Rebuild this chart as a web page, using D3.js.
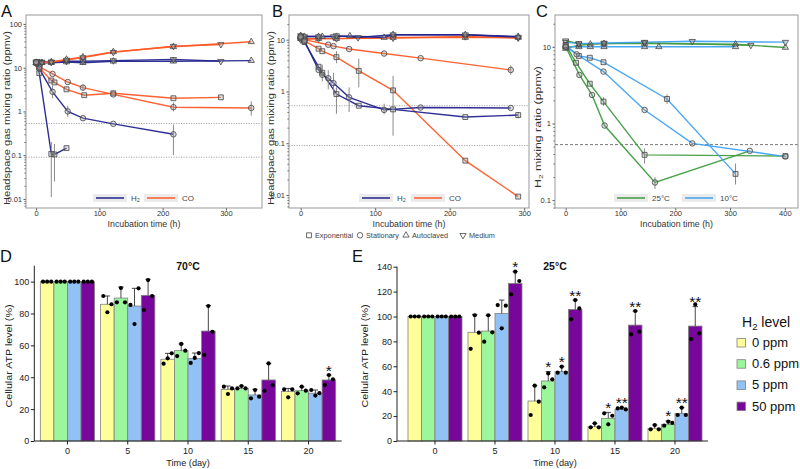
<!DOCTYPE html>
<html><head><meta charset="utf-8">
<script src="https://cdn.jsdelivr.net/npm/d3@7"></script>
<style>
body{margin:0;background:#fff;}
svg{display:block;font-family:"Liberation Sans",Arial,Helvetica,sans-serif;}
</style></head><body>
<svg id="c" width="800" height="469"></svg>
<script>
// ---------- Panel A data: [time (h), ppmv] ----------
const A_H2_exp  = [[0,13],[5,7.5],[24,0.107],[29,0.104],[48,0.145]];
const A_H2_stat = [[0,13.5],[5,9.5],[26,2.8],[50,1.0],[74,0.7],[122,0.52],[217,0.3]];
const A_H2_auto = [[0,13],[5,13],[9,13],[24,13],[48,13.5],[74,13],[122,14],[217,14],[340,14.5]];
const A_H2_med  = [[0,13.5],[5,13.5],[9,13.5],[24,13.5],[48,14],[74,14],[122,14.5],[217,15.5],[292,14]];
const A_CO_exp  = [[0,13],[5,10],[24,5.1],[29,4.6],[48,3.2],[76,2.35],[122,2.6],[217,2.0],[292,2.1]];
const A_CO_stat = [[0,13],[5,10.5],[26,7.2],[50,4.7],[74,3.5],[122,2.45],[217,1.25],[340,1.2]];
const A_CO_auto = [[0,13],[5,13],[9,13],[24,13.5],[48,15.5],[74,17.5],[122,23],[217,30],[340,39]];
const A_CO_med  = [[0,12.5],[5,13],[9,13],[24,13.5],[48,15],[74,17],[122,22.5],[217,31],[292,34]];
const A_err = [[24,0.011,0.2],[29,0.025,0.18],[217,0.1,0.5],[26,2.0,3.9],[50,0.75,1.35],[340,0.8,1.7],[217,1.0,1.6],[74,3.0,4.1]];

// ---------- Panel B data ----------
const B_H2_exp  = [[0,11],[5,9],[24,3.0],[29,2.3],[48,0.89],[78,0.53],[124,0.45],[221,0.32],[292,0.35]];
const B_H2_stat = [[0,11.5],[5,9.5],[24,2.6],[29,2.1],[37,1.8],[44,1.45],[65,0.77],[112,0.44],[161,0.49],[282,0.48]];
const B_H2_auto = [[0,12],[5,11.5],[24,11.5],[29,11.5],[48,11.5],[66,11.8],[112,11],[124,12.5],[221,12.5],[292,11.5]];
const B_H2_med  = [[0,12],[5,11.5],[24,11.5],[44,11.5],[48,12],[77,11],[124,12.5],[221,12.5],[292,11.2]];
const B_CO_exp  = [[0,11],[5,9.5],[24,6.7],[29,6.0],[48,4.6],[78,2.5],[124,1.05],[221,0.046],[292,0.0093]];
const B_CO_stat = [[0,10.5],[5,10],[37,8.0],[44,7.5],[65,6.6],[112,5.4],[161,4.4],[282,2.6]];
const B_CO_auto = [[0,10.5],[24,10.5],[48,10.5],[124,11],[221,11],[292,11]];
const B_CO_med  = [[0,10],[24,10.5],[48,10.5],[124,10.8],[221,11.5],[292,10.8]];
const B_err = [[29,1.56,3.3],[37,1.1,2.6],[44,0.87,2.3],[48,0.37,1.2],[65,0.4,1.2],[78,1.2,4.3],[112,0.36,0.58],[124,0.14,2.0],[48,3.5,6.0],[282,2.1,3.2],[292,0.3,0.4]];

// ---------- Panel C data ----------
const C_25_exp  = [[0,10.5],[19,6.2],[44,3.3],[69,1.93],[144,0.39],[401,0.376]];
const C_25_stat = [[0,10],[25,4.3],[48,2.36],[71,0.94],[163,0.17],[336,0.44]];
const C_25_auto = [[0,9.5],[24,10.5],[45,10.8],[70,11],[144,11],[310,10.8],[401,9.8]];
const C_25_med  = [[0,12],[24,11],[70,11],[144,11.3],[338,10.5]];
const C_10_exp  = [[0,10.5],[24,7.6],[44,7.2],[69,6.3],[185,2.09],[310,0.22]];
const C_10_stat = [[0,10],[20,8.0],[69,4.75],[144,1.5],[231,0.55],[401,0.37]];
const C_10_auto = [[0,10],[24,10],[45,10],[70,10],[144,10],[170,10],[310,10]];
const C_10_med  = [[0,11.5],[24,11],[70,11.2],[144,11.5],[231,11.8],[401,11.5]];
const C_err = [[163,0.14,0.2],[144,0.3,0.47],[310,0.16,0.3],[185,1.8,2.4],[69,1.7,2.2]];

const thresholdsAB = [0.53, 0.09];
const thresholdsC = [0.53];

// ---------- Panels D / E data ----------
const days = ["0","5","10","15","20"];
const levels = ["0 ppm","0.6 ppm","5 ppm","50 ppm"];
const D_mean = [[100,100,100,100],[85.8,89.7,84.7,91.4],[51.3,56.7,51.7,69],[32.4,33,28.9,38.3],[31,31.6,30,38.3]];
const D_err  = [[100,100,100,100],[91,96.6,95.8,101.5],[55,60.9,55.2,85],[34.5,34.5,32.4,48.7],[33,34,32,41.4]];
const D_dots = [
 [[100,100,100],[100,100,100],[100,100,100],[100,100,100]],
 [[91,80.8,85.8],[87,96,87],[85.4,73.4,95.8],[82.2,101,91]],
 [[48.5,51.9,55],[53.3,60.9,56.7],[49,52.1,55.2],[54,84.7,68.5]],
 [[34.1,29.5,33],[33,34.5,33],[26.8,32,27.8],[31.5,48.7,35]],
 [[32.4,27.4,32.4],[29.9,34.1,31.6],[32,28.5,30],[35.1,41.4,38.7]]];
const D_stars = [["20","50 ppm","*"]];

const E_mean = [[100,100,100,100],[87.3,88.3,102.5,126.6],[32.1,48.2,55.7,105.7],[11.5,18.2,25.4,93.1],[10.2,13.4,22.2,92.3]];
const E_err  = [[100,100,100,100],[101.7,101,113.2,136],[44.4,55.7,59.7,113.2],[14.2,23,26.8,104.4],[12.8,16.1,26.8,107.9]];
const E_dots = [
 [[100,100,100],[100,100,100],[100,100,100],[100,100,100]],
 [[74,101,87],[79.8,101,87.3],[109.2,90.5,108.7],[117.8,136,128.5]],
 [[20.9,44.4,31.6],[43.1,54.3,49.5],[54.9,59.7,54.9],[97.7,113.2,106.5]],
 [[11,14.2,11],[22.2,13.4,20.3],[26.2,26.8,25.4],[85.7,104.4,87.8]],
 [[9.4,12.8,9.4],[12.3,15.5,14.5],[20.9,26.8,20.9],[81.9,109.7,86.5]]];
const E_stars = [["5","50 ppm","*"],["10","0.6 ppm","*"],["10","5 ppm","*"],["10","50 ppm","**"],
 ["15","0.6 ppm","*"],["15","5 ppm","**"],["15","50 ppm","**"],["20","0.6 ppm","*"],["20","5 ppm","**"],["20","50 ppm","**"]];

// ---------- styling ----------
const colH2 = "#23238e", colCO = "#ff5a26", col25 = "#3f9c3f", col10 = "#3fa2f2";
const barCols = ["#ffff99","#9cf79c","#92c2f5","#77079b"];
const symType = {exp:d3.symbolSquare, stat:d3.symbolCircle, auto:d3.symbolTriangle, med:d3.symbolTriangle};
const symSize = {exp:24, stat:24, auto:17, med:17};

const svg = d3.select("#c");

function drawSym(g, kind, x, y, fill){
  g.append("path").attr("d", d3.symbol(symType[kind]).size(symSize[kind])())
   .attr("transform", `translate(${x},${y})${kind==="med"?" rotate(180)":""}`)
   .attr("fill", fill).attr("stroke", "#454545").attr("stroke-width", 0.8);
}

function topPanel(c){
  const g = svg.append("g");
  const x = d3.scaleLinear().domain(c.xd).range([c.x0, c.x1]);
  const y = d3.scaleLog().domain(c.yd).range([c.y1, c.y0]);
  c.hl.forEach(v => g.append("line").attr("x1",c.x0).attr("x2",c.x1).attr("y1",y(v)).attr("y2",y(v))
     .attr("stroke", c.hdash==="dot" ? "#a8a8a8" : "#666").attr("stroke-width", c.hdash==="dot"?1:0.9)
     .attr("stroke-dasharray", c.hdash==="dot" ? "1.2,1.3" : "3,2"));
  const ya = g.append("g").attr("transform",`translate(${c.x0},0)`)
     .call(d3.axisLeft(y).tickValues(c.yt).tickFormat(d=>String(d)).tickSize(2.5).tickPadding(1.5));
  const minors = [];
  for(let e=-3;e<3;e++) for(let k=2;k<10;k++){const v=k*Math.pow(10,e); if(v>c.yd[0]&&v<c.yd[1]) minors.push(v);}
  const ym = g.append("g").attr("transform",`translate(${c.x0},0)`)
     .call(d3.axisLeft(y).tickValues(minors).tickFormat("").tickSize(1.5));
  const xa = g.append("g").attr("transform",`translate(0,${c.y1})`)
     .call(d3.axisBottom(x).tickValues(c.xt).tickSize(2.5).tickPadding(0.5));
  [ya,ym,xa].forEach(a=>{a.select(".domain").remove(); a.selectAll("line").attr("stroke","#555");
     a.selectAll("text").attr("font-size",7.5).attr("fill","#333").attr("font-family",null);});
  g.append("rect").attr("x",c.x0).attr("y",c.y0).attr("width",c.x1-c.x0).attr("height",c.y1-c.y0)
   .attr("fill","none").attr("stroke","#999").attr("stroke-width",1);
  const line = d3.line().x(d=>x(d[0])).y(d=>y(d[1]));
  c.series.forEach(s => g.append("path").attr("d", line(s.data)).attr("fill","none")
     .attr("stroke", s.color).attr("stroke-width", 1.4).attr("stroke-opacity",0.95));
  c.err.forEach(e => g.append("line").attr("x1",x(e[0])).attr("x2",x(e[0])).attr("y1",y(e[1])).attr("y2",y(e[2]))
     .attr("stroke","#8a8a8a").attr("stroke-width",1));
  c.series.forEach(s => s.data.forEach(d => drawSym(g, s.sym, x(d[0]), y(d[1]), "rgba(160,160,160,0.35)")));
  c.leg.forEach(l => {
    g.append("rect").attr("x",l.x).attr("y",c.y1-14).attr("width",34).attr("height",8).attr("fill","#ebebeb");
    g.append("line").attr("x1",l.x+3).attr("x2",l.x+31).attr("y1",c.y1-10).attr("y2",c.y1-10)
     .attr("stroke",l.color).attr("stroke-width",1.5);
    const t = g.append("text").attr("x",l.x+38).attr("y",c.y1-7.2).attr("font-size",8).attr("fill","#444");
    if(l.label==="H2"){ t.text("H"); t.append("tspan").attr("font-size",5.5).attr("dy",1.5).text("2"); }
    else t.text(l.label);
  });
  g.append("text").attr("x",(c.x0+c.x1)/2).attr("y",c.y1+18.5).attr("text-anchor","middle")
   .attr("font-size",8.8).attr("fill","#333").text("Incubation time (h)");
  const yt = g.append("text").attr("transform",`translate(${c.ytx},${c.yty}) rotate(-90)`).attr("text-anchor","middle")
   .attr("font-size",9).attr("fill","#333").attr("textLength",c.ytl).attr("lengthAdjust","spacingAndGlyphs");
  if(c.yTitle==="C"){ yt.text("H"); yt.append("tspan").attr("font-size",6).attr("dy",1.5).text("2");
     yt.append("tspan").attr("dy",-1.5).text(" mixing ratio (ppmv)"); }
  else yt.text("Headspace gas mixing ratio (ppmv)");
  g.append("text").attr("x",c.lx).attr("y",17).attr("font-size",16.5).attr("fill","#111").text(c.id);
}

topPanel({id:"A", lx:1, x0:26, x1:262, y0:15, y1:208, xd:[-16,357], yd:[0.0062,160],
  yt:[0.01,0.1,1,10,100], xt:[0,100,200,300], hl:thresholdsAB, hdash:"dot", err:A_err,
  ytx:10, yty:118, ytl:174, yTitle:"A",
  series:[{data:A_H2_auto,color:colH2,sym:"auto"},{data:A_H2_med,color:colH2,sym:"med"},
          {data:A_CO_auto,color:colCO,sym:"auto"},{data:A_CO_med,color:colCO,sym:"med"},
          {data:A_CO_exp,color:colCO,sym:"exp"},{data:A_CO_stat,color:colCO,sym:"stat"},
          {data:A_H2_exp,color:colH2,sym:"exp"},{data:A_H2_stat,color:colH2,sym:"stat"}],
  leg:[{x:93,color:colH2,label:"H2"},{x:144,color:colCO,label:"CO"}]});

topPanel({id:"B", lx:272, x0:289, x1:529, y0:15, y1:208, xd:[-15.7,306.5], yd:[0.0056,30],
  yt:[0.01,0.1,1,10], xt:[0,100,200,300], hl:thresholdsAB, hdash:"dot", err:B_err,
  ytx:273.5, yty:118, ytl:174, yTitle:"B",
  series:[{data:B_CO_auto,color:colCO,sym:"auto"},{data:B_CO_med,color:colCO,sym:"med"},
          {data:B_H2_auto,color:colH2,sym:"auto"},{data:B_H2_med,color:colH2,sym:"med"},
          {data:B_CO_exp,color:colCO,sym:"exp"},{data:B_CO_stat,color:colCO,sym:"stat"},
          {data:B_H2_exp,color:colH2,sym:"exp"},{data:B_H2_stat,color:colH2,sym:"stat"}],
  leg:[{x:359,color:colH2,label:"H2"},{x:411,color:colCO,label:"CO"}]});

topPanel({id:"C", lx:536, x0:555, x1:798, y0:15, y1:208, xd:[-19.5,424], yd:[0.079,26],
  yt:[0.1,1,10], xt:[0,100,200,300,400], hl:thresholdsC, hdash:"dash", err:C_err,
  ytx:541, yty:127, ytl:122, yTitle:"C",
  series:[{data:C_25_auto,color:col25,sym:"auto"},{data:C_25_med,color:col25,sym:"med"},
          {data:C_10_auto,color:col10,sym:"auto"},{data:C_10_med,color:col10,sym:"med"},
          {data:C_25_exp,color:col25,sym:"exp"},{data:C_25_stat,color:col25,sym:"stat"},
          {data:C_10_exp,color:col10,sym:"exp"},{data:C_10_stat,color:col10,sym:"stat"}],
  leg:[{x:614,color:col25,label:"25°C"},{x:682,color:col10,label:"10°C"}]});

(function(){
  const g = svg.append("g");
  const items = [["exp","Exponential",309],["stat","Stationary",360],["auto","Autoclaved",406],["med","Medium",463]];
  items.forEach(it => { drawSym(g, it[0], it[2], 235.3, "none");
    g.append("text").attr("x",it[2]+6).attr("y",238).attr("font-size",7.3).attr("fill","#444").text(it[1]); });
})();

function barPanel(c){
  const g = svg.append("g");
  const x = d3.scaleBand().domain(days).range([c.bx0, c.bx1]).paddingInner(0.1).paddingOuter(0.1);
  const xi = d3.scaleBand().domain(levels).range([0, x.bandwidth()]);
  const y = d3.scaleLinear().domain([0, c.ymax]).range([441, c.ytop]);
  const bw = xi.bandwidth();
  const flat = [];
  days.forEach((d,i)=>levels.forEach((l,j)=>flat.push({d,l,j,m:c.mean[i][j],e:c.err[i][j],dots:c.dots[i][j]})));
  const cell = g.selectAll("g.cell").data(flat).join("g").attr("class","cell")
     .attr("transform", f=>`translate(${x(f.d)+xi(f.l)},0)`);
  cell.append("rect").attr("x",0).attr("width",bw).attr("y",f=>y(f.m)).attr("height",f=>y(0)-y(f.m))
     .attr("fill",f=>barCols[f.j]).attr("stroke","#808080").attr("stroke-width",0.8);
  const eb = cell.filter(f=>f.e>f.m);
  eb.append("line").attr("x1",bw/2).attr("x2",bw/2).attr("y1",f=>y(f.m)).attr("y2",f=>y(f.e))
     .attr("stroke","#333").attr("stroke-width",0.9);
  eb.append("line").attr("x1",bw*0.3).attr("x2",bw*0.7).attr("y1",f=>y(f.e)).attr("y2",f=>y(f.e))
     .attr("stroke","#333").attr("stroke-width",0.9);
  cell.each(function(f){
    d3.select(this).selectAll("circle").data(f.dots).join("circle")
      .attr("cx",(v,k)=>bw/2 + (k-1)*bw*0.3).attr("cy",v=>y(v)).attr("r",2.1).attr("fill","#000");
  });
  c.stars.forEach(s => { const i = days.indexOf(s[0]), j = levels.indexOf(s[1]);
    g.append("text").attr("x", x(s[0])+xi(s[1])+bw/2).attr("y", y(c.err[i][j])+0.5)
     .attr("text-anchor","middle").attr("font-size",15.5).attr("fill","#111").text(s[2]); });
  const ya = g.append("g").attr("transform",`translate(${c.ax},0)`)
     .call(d3.axisLeft(y).tickValues(d3.range(0, c.ymaxTick+1, 20)).tickSize(3.5).tickSizeOuter(0).tickPadding(1.5));
  ya.select(".domain").attr("d", `M0,${y(0)}V${c.ytop}`);
  const xa = g.append("g").attr("transform",`translate(0,441)`)
     .call(d3.axisBottom(x).tickSize(3.5).tickPadding(3));
  xa.select(".domain").attr("d", `M${c.ax},0H${c.bx1}`);
  [ya,xa].forEach(a=>{ a.selectAll("line,path").attr("stroke","#222");
    a.selectAll("text").attr("font-size",9).attr("fill","#222").attr("font-family",null); });
  g.append("text").attr("x",(c.bx0+c.bx1)/2).attr("y",466).attr("text-anchor","middle")
   .attr("font-size",9.2).attr("fill","#222").text("Time (day)");
  g.append("text").attr("transform",`translate(${c.ytx},356) rotate(-90)`).attr("text-anchor","middle")
   .attr("font-size",9.5).attr("fill","#222").attr("textLength",103).attr("lengthAdjust","spacingAndGlyphs")
   .text("Cellular ATP level (%)");
  g.append("text").attr("x",c.tx).attr("y",270).attr("text-anchor","middle").attr("font-size",10.5)
   .attr("font-weight","bold").attr("fill","#111").text(c.title);
  g.append("text").attr("x",c.lx).attr("y",262).attr("font-size",16.5).attr("fill","#111").text(c.id);
}

barPanel({id:"D", lx:0, ax:34.3, bx0:34.3, bx1:341.7, ymax:110, ymaxTick:100, ytop:265.7,
  mean:D_mean, err:D_err, dots:D_dots, stars:D_stars, ytx:11.5, tx:188, title:"70°C"});
barPanel({id:"E", lx:352, ax:397, bx0:402, bx1:708, ymax:140, ymaxTick:140, ytop:266.7,
  mean:E_mean, err:E_err, dots:E_dots, stars:E_stars, ytx:368, tx:555, title:"25°C"});

(function(){
  const g = svg.append("g");
  const t = g.append("text").attr("x",742).attr("y",327).attr("font-size",14).attr("fill","#111");
  t.text("H"); t.append("tspan").attr("font-size",9.5).attr("dy",3).text("2");
  t.append("tspan").attr("dy",-3).text(" level");
  levels.forEach((l,j)=>{
    g.append("rect").attr("x",737).attr("y",338.5+j*21.2).attr("width",8.5).attr("height",8.5)
     .attr("fill",barCols[j]).attr("stroke","#808080").attr("stroke-width",0.8);
    g.append("text").attr("x",752).attr("y",347+j*21.2).attr("font-size",13).attr("fill","#111").text(l);
  });
})();
</script>
</body></html>
